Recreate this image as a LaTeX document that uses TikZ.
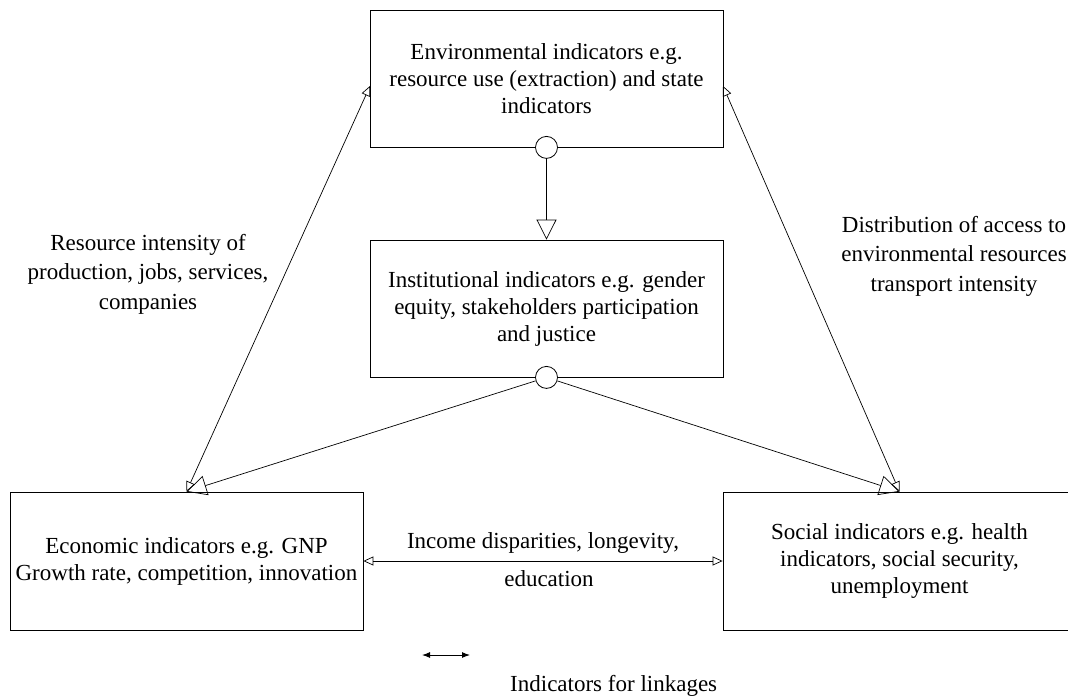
\documentclass[tikz,border=0pt]{standalone}
\usepackage{fontspec}
\setmainfont{Liberation Serif}
\usetikzlibrary{arrows.meta}
\begin{document}
\begin{tikzpicture}[x=1pt,y=-1pt,
  every node/.style={font=\fontsize{23}{27}\selectfont},
  box/.style={draw,line width=0.8pt,rectangle,minimum width=353pt,minimum height=137pt,align=center,inner sep=0pt},
  hub/.style={draw,line width=0.8pt,circle,fill=white,minimum size=22pt,inner sep=0pt},
  link/.style={line width=0.7pt,{Triangle[open,length=10pt,width=9pt]}-{Triangle[open,length=10pt,width=9pt]}},
  feed/.style={line width=0.7pt,-{Triangle[open,length=20pt,width=20pt]}},
  lbl/.style={align=center,font=\fontsize{23}{29.5}\selectfont}
]
\useasboundingbox (0,0) rectangle (1068,698);

% indicator boxes
\node[box] (env)  at (546.5,78.5) {Environmental indicators e.g.\\resource use (extraction) and state\\indicators};
\node[box] (inst) at (546.5,308.5) {Institutional indicators e.g. gender\\equity, stakeholders participation\\and justice};
\node[box,minimum height=138pt] (econ) at (186.5,561) {Economic indicators e.g. GNP\\Growth rate, competition, innovation};
\node[box,minimum height=138pt] (soc)  at (899.5,561) {Social indicators e.g. health\\indicators, social security,\\unemployment};

% attachment points on the environmental box
\coordinate (envL) at (370,86);
\coordinate (envR) at (723,86);

% hubs where the institutional links leave a box
\node[hub] (hubA) at (env.south) {};
\node[hub] (hubB) at (inst.south) {};

% institutional links
\draw[feed] (hubA) -- (inst.north);
\draw[feed] (hubB) -- (econ.north);
\draw[feed] (hubB) -- (soc.north);

% linkages between the pillars
\draw[link] (econ.north) -- (envL);
\draw[link] (envR) -- (soc.north);
\draw[link] (econ.east) -- (soc.west);

% linkage labels
\node[lbl] (lres) at (148,274) {Resource intensity of\\production, jobs, services,\\companies};
\node[lbl] (ldist) at (954,256) {Distribution of access to\\environmental resources\\transport intensity};
\node[anchor=base] (linc) at (543,548) {Income disparities, longevity,};
\node[anchor=base] (ledu) at (549,586) {education};

% legend
\coordinate (lgA) at (422,655);
\coordinate (lgB) at (470,655);
\draw[line width=1pt,{Latex[length=8pt,width=6pt]}-{Latex[length=8pt,width=6pt]}] (lgA) -- (lgB);
\node[anchor=base west,inner sep=0pt] (lgT) at (510,691) {Indicators for linkages};
\end{tikzpicture}
\end{document}
